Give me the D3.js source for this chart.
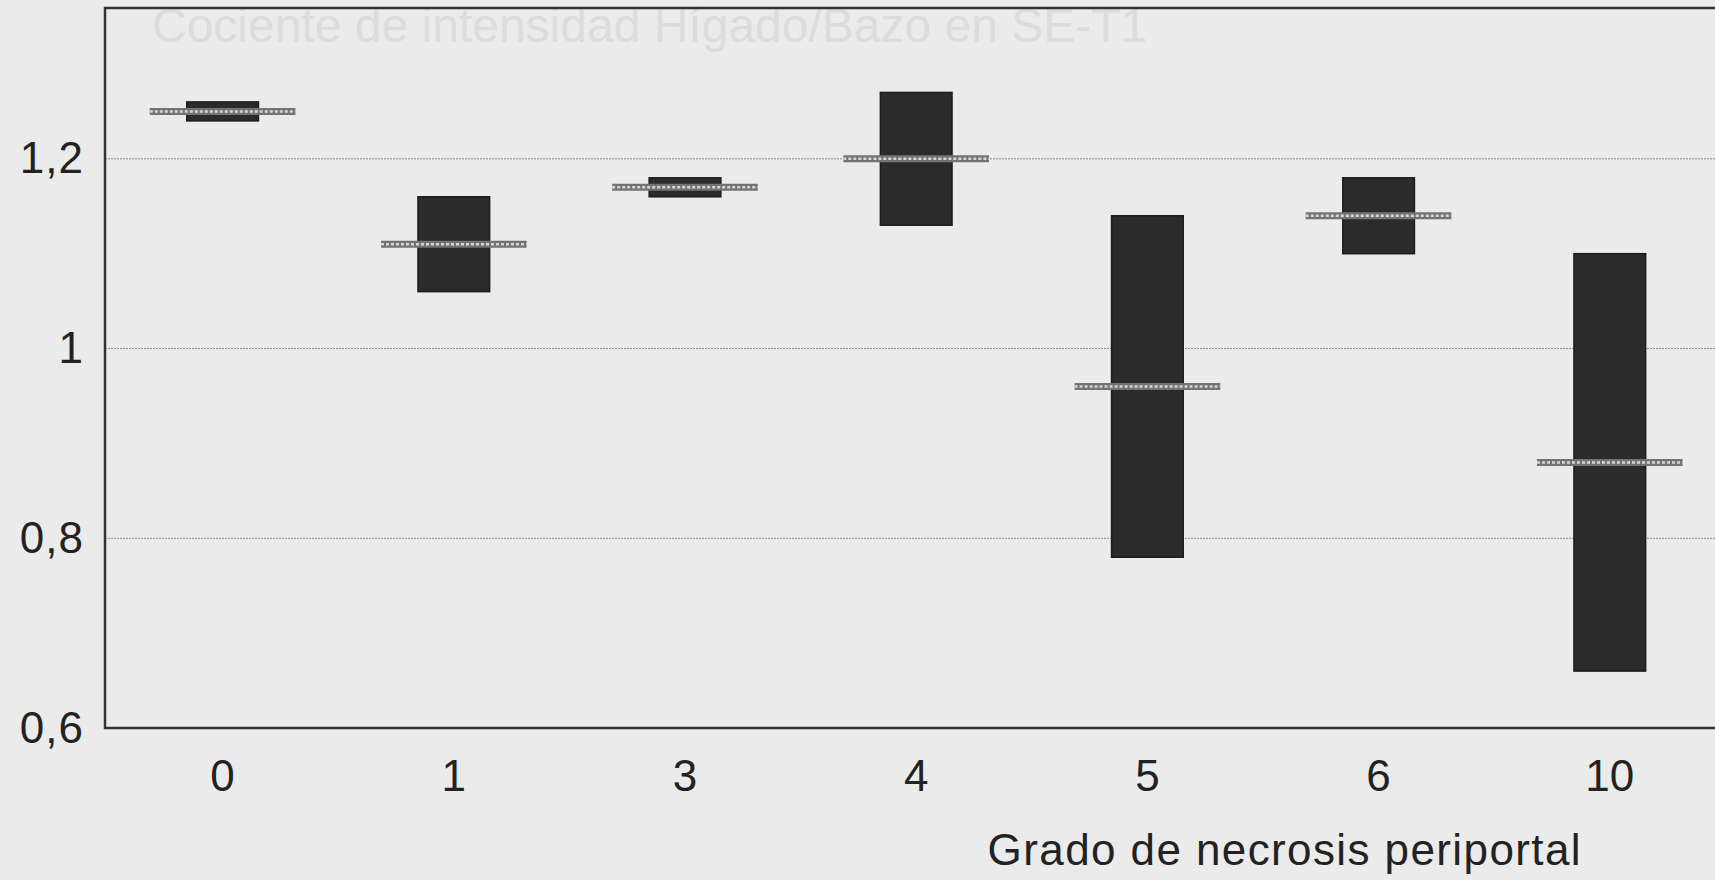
<!DOCTYPE html>
<html>
<head>
<meta charset="utf-8">
<script src="https://cdn.jsdelivr.net/npm/d3@7"></script>
<style>
    html, body { margin: 0; padding: 0; background: #ebebeb; overflow: hidden; }
    svg { display: block; }
    text { font-family: "Liberation Sans", Arial, Helvetica, sans-serif; fill: #222; }
</style>
</head>
<body>
<div id="chart"></div>
<script>
// grado de necrosis periportal
const categories = ['0', '1', '3', '4', '5', '6', '10'];
const lowValues = [1.24, 1.06, 1.16, 1.13, 0.78, 1.10, 0.66];
const highValues = [1.26, 1.16, 1.18, 1.27, 1.14, 1.18, 1.10];
const medianValues = [1.25, 1.11, 1.17, 1.20, 0.96, 1.14, 0.88];
const yTicks = [0.6, 0.8, 1, 1.2];
const yGrid = [0.8, 1, 1.2];

let width = 1715,
    height = 880,
    margin = { top: 8, right: -10, bottom: 152, left: 105 };

let svg = d3.select('#chart')
    .append('svg')
    .attr('width', width)
    .attr('height', height);

let scaleX = d3.scaleBand()
    .domain(categories)
    .range([107, 107 + 231.2 * categories.length])
    .paddingInner(0.69)
    .paddingOuter(0.345);

let scaleY = d3.scaleLinear()
    .domain([0.6, 1.359])
    .range([height - margin.bottom, margin.top]);

// faint title showing through the scan
svg.append('text')
    .attr('x', 152)
    .attr('y', 42)
    .attr('font-size', 48)
    .style('fill', '#dcdcdc')
    .text('Cociente de intensidad Hígado/Bazo en SE-T1');

// grid lines
svg.append('g')
    .selectAll('line')
    .data(yGrid)
    .enter()
    .append('line')
    .attr('x1', margin.left)
    .attr('x2', width)
    .attr('y1', d => scaleY(d))
    .attr('y2', d => scaleY(d))
    .attr('stroke', '#8a8a8a')
    .attr('stroke-width', 1)
    .attr('stroke-dasharray', '2,1');

// y axis labels
let yAxis = d3.axisLeft(scaleY)
    .tickValues(yTicks)
    .tickSize(0)
    .tickPadding(21)
    .tickFormat(d => d3.format('.1~f')(d).replace('.', ','));

svg.append('g')
    .attr('transform', 'translate(' + margin.left + ',0)')
    .call(yAxis)
    .call(g => g.select('.domain').remove())
    .call(g => g.selectAll('text')
        .attr('font-size', 44)
        .style('letter-spacing', '1px')
        .style('font-family', '"Liberation Sans", Arial, sans-serif')
        .style('fill', '#222'));

// x axis labels
let xAxis = d3.axisBottom(scaleX)
    .tickSize(0)
    .tickPadding(32);

svg.append('g')
    .attr('transform', 'translate(0,' + scaleY(0.6) + ')')
    .call(xAxis)
    .call(g => g.select('.domain').remove())
    .call(g => g.selectAll('text')
        .attr('font-size', 44)
        .style('font-family', '"Liberation Sans", Arial, sans-serif')
        .style('fill', '#222'));

// boxes
svg.append('g')
    .selectAll('rect')
    .data(categories)
    .enter()
    .append('rect')
    .attr('x', d => scaleX(d))
    .attr('width', scaleX.bandwidth())
    .attr('y', (d, i) => scaleY(highValues[i]))
    .attr('height', (d, i) => scaleY(lowValues[i]) - scaleY(highValues[i]))
    .attr('fill', '#2b2b2b')
    .attr('stroke', '#1c1c1c')
    .attr('stroke-width', 1.5);

// median lines
let medLen = scaleX.step() * 0.63;
let medians = svg.append('g');
medians.selectAll('line.outer')
    .data(categories)
    .enter()
    .append('line')
    .attr('class', 'outer')
    .attr('x1', d => scaleX(d) + scaleX.bandwidth() / 2 - medLen / 2)
    .attr('x2', d => scaleX(d) + scaleX.bandwidth() / 2 + medLen / 2)
    .attr('y1', (d, i) => scaleY(medianValues[i]))
    .attr('y2', (d, i) => scaleY(medianValues[i]))
    .attr('stroke', '#737373')
    .attr('stroke-width', 7);
medians.selectAll('line.inner')
    .data(categories)
    .enter()
    .append('line')
    .attr('class', 'inner')
    .attr('x1', d => scaleX(d) + scaleX.bandwidth() / 2 - medLen / 2)
    .attr('x2', d => scaleX(d) + scaleX.bandwidth() / 2 + medLen / 2)
    .attr('y1', (d, i) => scaleY(medianValues[i]))
    .attr('y2', (d, i) => scaleY(medianValues[i]))
    .attr('stroke', '#d6d6d6')
    .attr('stroke-width', 2.5)
    .attr('stroke-dasharray', '3,2');

// frame
svg.append('path')
    .attr('d', 'M' + width + ',' + margin.top + 'H' + margin.left + 'V' + scaleY(0.6) + 'H' + width)
    .attr('fill', 'none')
    .attr('stroke', '#333')
    .attr('stroke-width', 2.5);

// axis title
svg.append('text')
    .attr('x', 1582)
    .attr('y', 865)
    .attr('text-anchor', 'end')
    .attr('font-size', 44)
    .style('letter-spacing', '1.4px')
    .text('Grado de necrosis periportal');
</script>
</body>
</html>
